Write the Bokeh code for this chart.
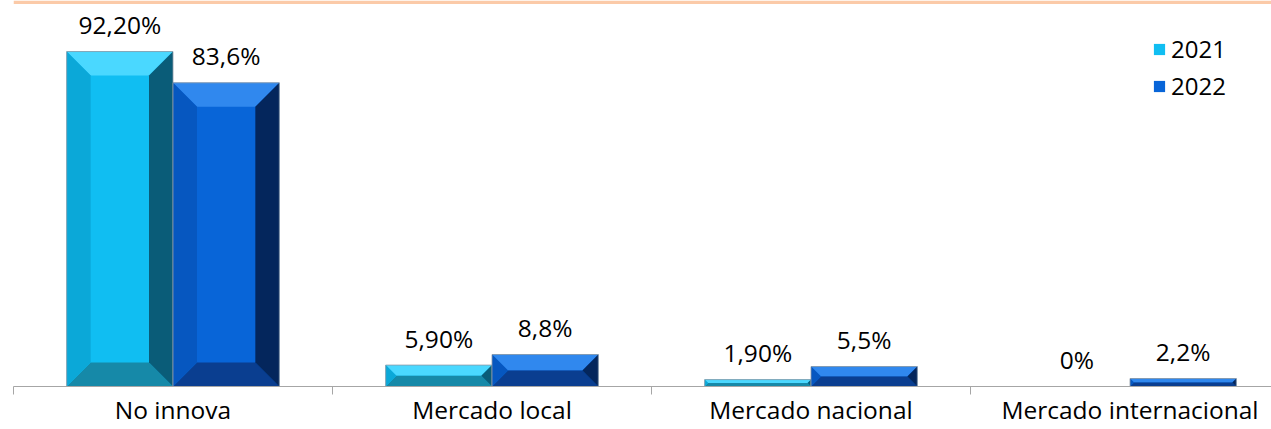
import numpy as np
from bokeh.plotting import figure
from bokeh.models import ColumnDataSource, FixedTicker, Range1d, Legend, LegendItem, BoxAnnotation
from bokeh.core.properties import value
from bokeh.embed import file_html
from bokeh.resources import INLINE

# ---------------- data ----------------
categories = ["No innova", "Mercado local", "Mercado nacional", "Mercado internacional"]
series_names = ["2021", "2022"]
values_2021 = [92.2, 5.9, 1.9, 0.0]
values_2022 = [83.6, 8.8, 5.5, 2.2]
labels_2021 = ["92,20%", "5,90%", "1,90%", "0%"]
labels_2022 = ["83,6%", "8,8%", "5,5%", "2,2%"]

# ---------------- style / geometry ----------------
W, H = 1271, 429
BORDER_L, BORDER_B = 13, 43
FRAME_W, FRAME_H = W - BORDER_L, H - BORDER_B
CAT_PX = 319.0                  # pixels per category
PX_PER_PCT = 3.633              # pixels per percentage point
X_END = FRAME_W / CAT_PX
Y_END = FRAME_H / PX_PER_PCT
BAR_W = 1.0 / 3.0
BEVEL_PX = 24.0
FONT = "Open Sans"

palette = {
    "2021": dict(main="#10BEF2", top="#4AD8FF", left="#0BA8D8", right="#0A5C78", bottom="#1689A8"),
    "2022": dict(main="#0865D8", top="#3088EE", left="#0657C0", right="#04265C", bottom="#0A3E90"),
}

p = figure(width=W, height=H, output_backend="svg", toolbar_location=None,
           x_range=Range1d(0, X_END), y_range=Range1d(0, Y_END),
           min_border_left=BORDER_L, min_border_right=0, min_border_top=0,
           min_border_bottom=BORDER_B)
p.outline_line_color = None
p.grid.visible = False
p.yaxis.visible = False
p.background_fill_color = "white"
p.border_fill_color = "white"

# peach band at the top
p.add_layout(BoxAnnotation(bottom=Y_END - 3.5 / PX_PER_PCT, top=Y_END,
                           fill_color="#FBCAA8", fill_alpha=1.0, line_color=None))

legend_renderers = {}
for s_idx, (name, vals, labs) in enumerate(zip(series_names, [values_2021, values_2022],
                                               [labels_2021, labels_2022])):
    col = palette[name]
    centers = [i + 0.5 + (s_idx - 0.5) * BAR_W for i in range(len(categories))]
    src = ColumnDataSource(dict(x=centers, top=vals, lab=labs))
    r = p.vbar(x="x", top="top", width=BAR_W, bottom=0, source=src,
               fill_color=col["main"], line_color=None)
    legend_renderers[name] = r

    # bevel facets computed from each value
    faces = {"top": ([], []), "bottom": ([], []), "left": ([], []), "right": ([], [])}
    for xc, v in zip(centers, vals):
        if v <= 0:
            continue
        x0, x1 = xc - BAR_W / 2, xc + BAR_W / 2
        h_px = v * PX_PER_PCT
        b = min(BEVEL_PX, h_px / 2.0, BAR_W * CAT_PX / 2.0)
        bx, by = b / CAT_PX, b / PX_PER_PCT
        faces["top"][0].append([x0, x1, x1 - bx, x0 + bx])
        faces["top"][1].append([v, v, v - by, v - by])
        faces["bottom"][0].append([x0, x1, x1 - bx, x0 + bx])
        faces["bottom"][1].append([0, 0, by, by])
        faces["left"][0].append([x0, x0, x0 + bx, x0 + bx])
        faces["left"][1].append([0, v, v - by, by])
        faces["right"][0].append([x1, x1, x1 - bx, x1 - bx])
        faces["right"][1].append([0, v, v - by, by])
    for face, (xs, ys) in faces.items():
        if xs:
            p.patches(xs=xs, ys=ys, fill_color=col[face], line_color=None)
    # thin outline
    p.vbar(x="x", top="top", width=BAR_W, bottom=0, source=src,
           fill_color=None, line_color="#8C9AA6", line_width=1, line_alpha=0.8)

    # value labels
    p.text(x="x", y="top", text="lab", source=src, text_align="center",
           text_baseline="alphabetic", y_offset=-27,
           text_font=value(FONT), text_font_size=value("24.5px"), text_color="#000000")

# x axis with boundary ticks and centred category labels
centers_cat = [i + 0.5 for i in range(len(categories))]
p.xaxis.ticker = FixedTicker(ticks=centers_cat, minor_ticks=list(range(len(categories) + 1)))
p.xaxis.major_label_overrides = {c: lab for c, lab in zip(centers_cat, categories)}
p.xaxis.major_tick_line_color = None
p.xaxis.major_tick_out = 0
p.xaxis.major_tick_in = 0
p.xaxis.minor_tick_line_color = "#A6A6A6"
p.xaxis.minor_tick_out = 8
p.xaxis.minor_tick_in = 0
p.xaxis.axis_line_color = "#A6A6A6"
p.xaxis.axis_line_width = 1
p.xaxis.major_label_standoff = -2
p.xaxis.major_label_text_font = FONT
p.xaxis.major_label_text_font_size = "24.5px"
p.xaxis.major_label_text_color = "#000000"

legend = Legend(items=[LegendItem(label=n, renderers=[legend_renderers[n]]) for n in series_names],
                location=(1139, 284), padding=0, margin=0, spacing=4,
                glyph_width=14, glyph_height=14, label_standoff=5,
                label_text_font=FONT, label_text_font_size="24px",
                label_text_color="#000000", border_line_color=None,
                background_fill_alpha=0.0)
p.add_layout(legend, "center")

open("out.html", "w").write(file_html(p, INLINE))
